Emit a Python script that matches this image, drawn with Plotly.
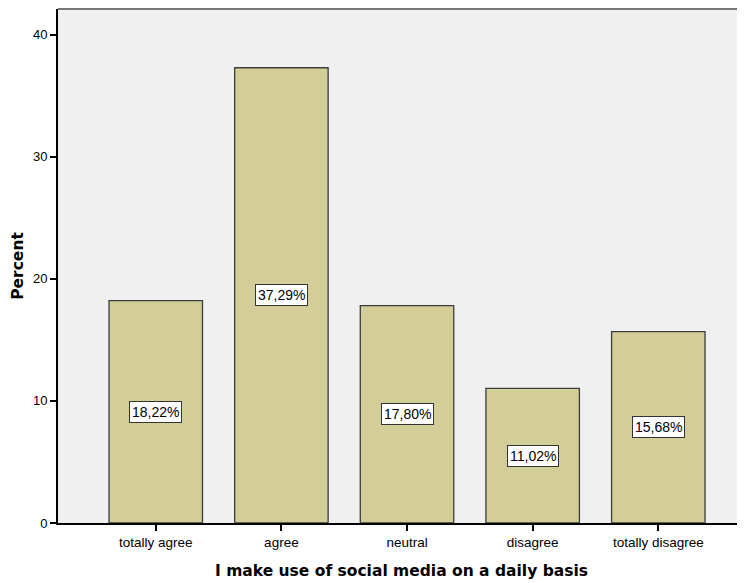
import plotly.graph_objects as go

categories = ["totally agree", "agree", "neutral", "disagree", "totally disagree"]
percent = [18.22, 37.29, 17.80, 11.02, 15.68]
labels = ["18,22%", "37,29%", "17,80%", "11,02%", "15,68%"]
y_ticks = [0, 10, 20, 30, 40]

fig = go.Figure()
fig.add_trace(go.Bar(
    x=list(range(len(categories))), y=percent,
    marker=dict(color="#D3CE97", line=dict(color="#3C3C3C", width=1.3)),
    width=0.744, hoverinfo="skip",
))

for i, (v, t) in enumerate(zip(percent, labels)):
    fig.add_annotation(x=i, y=v / 2, text=t, showarrow=False,
                       font=dict(family="Liberation Sans, Arial", size=14, color="black"),
                       bgcolor="white", bordercolor="#333333", borderwidth=1, borderpad=2)

fig.add_shape(type="line", xref="paper", yref="paper", x0=0, x1=1, y0=1, y1=1,
              line=dict(color="#777777", width=2))

# the page body has an 8px margin, so the figure is offset by 8px
fig.update_layout(
    width=737, height=575,
    margin=dict(l=50, r=0, t=1, b=60, autoexpand=False),
    paper_bgcolor="white", plot_bgcolor="#F0F0F0",
    showlegend=False,
    font=dict(family="Liberation Sans, Arial", size=13, color="black"),
    xaxis=dict(
        range=[-0.778, 4.69], tickmode="array",
        tickvals=list(range(len(categories))), ticktext=categories,
        showgrid=False, zeroline=False, showline=True, linecolor="black", linewidth=2,
        ticks="outside", ticklen=6, tickwidth=1.5, tickcolor="black",
        tickfont=dict(size=13.5),
        title=dict(text="<b>I make use of social media on a daily basis</b>",
                   font=dict(family="DejaVu Sans", size=15.5), standoff=16),
    ),
    yaxis=dict(
        range=[0, 42.1], tickmode="array", tickvals=y_ticks,
        showgrid=False, zeroline=False, showline=True, linecolor="black", linewidth=2,
        ticks="outside", ticklen=6, tickwidth=1.5, tickcolor="black",
        tickfont=dict(size=13),
        title=dict(text="<b>Percent</b>",
                   font=dict(family="DejaVu Sans", size=15.5), standoff=6),
    ),
)

fig.write_html("out.html")
